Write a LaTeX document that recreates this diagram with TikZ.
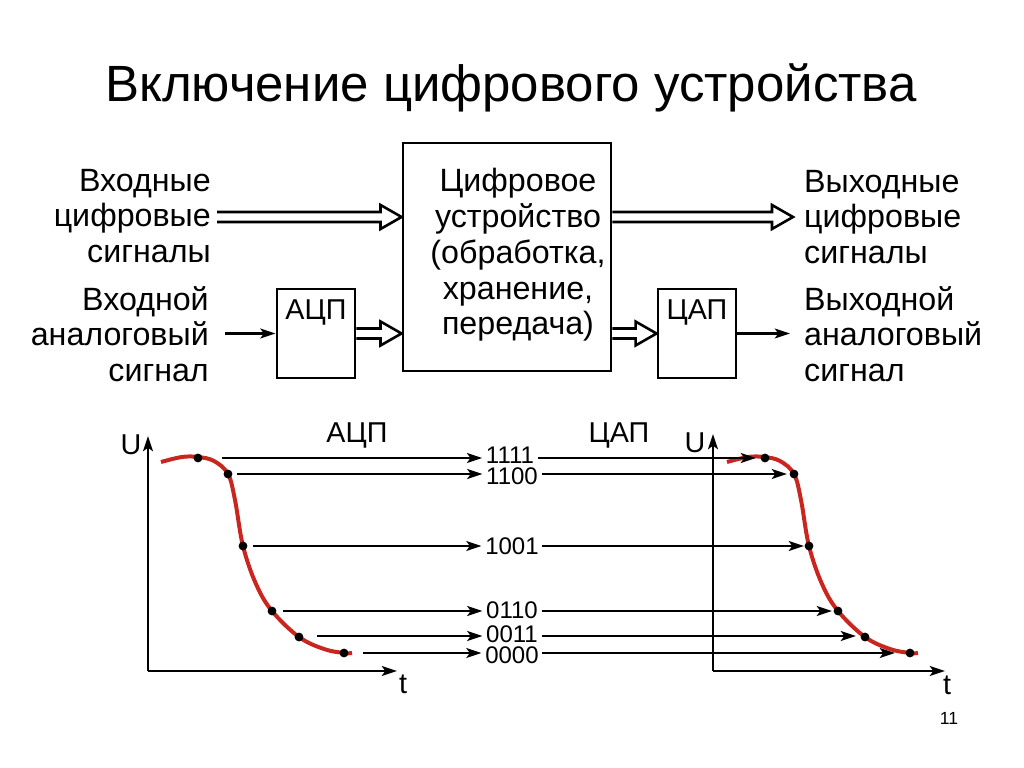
\documentclass[tikz,border=0pt]{standalone}
\usepackage{fontspec}
\setmainfont{Liberation Sans}
\usetikzlibrary{arrows.meta,calc,positioning}

\definecolor{curvered}{RGB}{200,38,30}

% hollow double arrow between two points on one level
\newcommand{\dblarrow}[2]{%
  \draw[dblwire] ($(#1)+(0,-5)$) -- ($(#2)+(-21,-5)$) -- ($(#2)+(-21,-12)$) -- (#2)
    -- ($(#2)+(-21,12)$) -- ($(#2)+(-21,5)$) -- ($(#1)+(0,5)$);}

% sampled signal
\newcommand{\sigcurve}{plot[smooth, tension=0.6] coordinates {(161,462) (182,457) (198,457)
    (214,461) (228,474) (235,500) (243,546) (256,584) (272,611) (299,637) (324,649) (344,653) (352,653)}}

\begin{document}
\begin{tikzpicture}[x=0.03cm,y=-0.03cm]
            \tikzstyle{block}=[draw, line width=2.5pt, inner sep=0pt]
            \tikzstyle{txt}=[font=\fontsize{27.5}{30.5}\selectfont, inner sep=0pt]
            \tikzstyle{lbl}=[font=\fontsize{24.5}{26}\selectfont, inner sep=0pt]
            \tikzstyle{code}=[font=\fontsize{20.5}{21}\selectfont, inner xsep=3pt, inner ysep=0pt, text height=14.8pt, text depth=0pt]
            \tikzstyle{wire}=[line width=1.9pt, -{Stealth[length=13pt,width=8.5pt,inset=3pt]}]
            \tikzstyle{dblwire}=[line width=2.2pt, line join=miter]
            \tikzstyle{signal}=[line width=3.4pt, curvered]
            \tikzstyle{dot}=[circle, fill=black, inner sep=0pt, minimum size=7.5pt]

            \useasboundingbox (0,0) rectangle (1024,768);

            % title
            \node[font=\fontsize{43.5}{50}\selectfont] (title) at (511,88) {Включение цифрового устройства};

            % blocks
            \node[block, minimum width=6.24cm, minimum height=6.84cm] (dev) at (507,257) {};
            \node[txt, align=center] (devtxt) at (518,255) {Цифровое\\устройство\\(обработка,\\хранение,\\передача)};
            \node[block, minimum width=2.34cm, minimum height=2.67cm] (adc) at (316,333.5) {};
            \node[lbl, below=10pt] (adctxt) at (adc.north) {АЦП};
            \node[block, minimum width=2.34cm, minimum height=2.67cm] (dac) at (697,333.5) {};
            \node[lbl, below=10pt] (dactxt) at (dac.north) {ЦАП};

            % side texts
            \node[txt, align=right, anchor=east] (indig) at (211,216) {Входные\\цифровые\\сигналы};
            \node[txt, align=right, anchor=east] (inan) at (209,334) {Входной\\аналоговый\\сигнал};
            \node[txt, align=left, anchor=west] (outdig) at (804,217) {Выходные\\цифровые\\сигналы};
            \node[txt, align=left, anchor=west] (outan) at (804,334) {Выходной\\аналоговый\\сигнал};

            % connection points
            \coordinate (in1) at (217,217);
            \coordinate (in1e) at (dev.west |- in1);
            \coordinate (in2) at (adc.east);
            \coordinate (in2e) at (dev.west |- in2);
            \coordinate (out1) at (dev.east |- in1);
            \coordinate (out1e) at (793,217);
            \coordinate (out2) at (dev.east |- dac.west);
            \coordinate (anin) at (225,333.5);
            \coordinate (anout) at (790,333.5);

            % connections
            \dblarrow{in1}{in1e}
            \dblarrow{in2}{in2e}
            \dblarrow{out1}{out1e}
            \dblarrow{out2}{dac.west}
            \draw[wire] (anin) -- (adc.west);
            \draw[wire] (dac.east) -- (anout);

            % axes
            \coordinate (o1) at (148,671);
            \coordinate (y1) at (148,436);
            \coordinate (x1) at (397,671);
            \coordinate (o2) at (713,671);
            \coordinate (y2) at (713,434);
            \coordinate (x2) at (945,671);
            \draw[wire] (o1) -- (y1);
            \draw[wire] (o1) -- (x1);
            \draw[wire] (o2) -- (y2);
            \draw[wire] (o2) -- (x2);
            \node[lbl] (u1) at (131,445) {U};
            \node[lbl] (t1) at (403,684) {t};
            \node[lbl] (u2) at (695,443) {U};
            \node[lbl] (t2) at (947,685) {t};
            \node[lbl] (adclbl) at (357,435) {АЦП};
            \node[lbl] (daclbl) at (619,435) {ЦАП};

            % signals
            \draw[signal] \sigcurve;
            \begin{scope}[shift={(566,0)}]
            \draw[signal] \sigcurve;
            \end{scope}

            % samples
            \node[dot] (a1) at (198,458) {};
            \node[dot] (a2) at (228,474) {};
            \node[dot] (a3) at (243,546) {};
            \node[dot] (a4) at (272,611) {};
            \node[dot] (a5) at (299,637) {};
            \node[dot] (a6) at (344,653) {};
            \node[dot] (b1) at (765,458) {};
            \node[dot] (b2) at (794,474) {};
            \node[dot] (b3) at (809,546) {};
            \node[dot] (b4) at (838,611) {};
            \node[dot] (b5) at (865,637) {};
            \node[dot] (b6) at (910,653) {};

            % codes
            \node[code] (c1) at (510,454.5) {1111};
            \node[code] (c2) at (512,476) {1100};
            \node[code] (c3) at (512,546) {1001};
            \node[code] (c4) at (512,610) {0110};
            \node[code] (c5) at (512,633.5) {0011};
            \node[code] (c6) at (512,655) {0000};

            % line starts and ends
            \coordinate (s1) at (222,458);
            \coordinate (s2) at (237,474);
            \coordinate (s3) at (253,546);
            \coordinate (s4) at (283,611);
            \coordinate (s5) at (317,636);
            \coordinate (s6) at (363,653);
            \coordinate (e1) at (756,458);
            \coordinate (e2) at (787,474);
            \coordinate (e3) at (804,546);
            \coordinate (e4) at (832,611);
            \coordinate (e5) at (856,636);
            \coordinate (e6) at (895,653);

            % conversion lines
            \draw[wire] (s1) -- (c1.west |- s1);
            \draw[wire] (s2) -- (c2.west |- s2);
            \draw[wire] (s3) -- (c3.west |- s3);
            \draw[wire] (s4) -- (c4.west |- s4);
            \draw[wire] (s5) -- (c5.west |- s5);
            \draw[wire] (s6) -- (c6.west |- s6);
            \draw[wire] (c1.east |- s1) -- (e1);
            \draw[wire] (c2.east |- s2) -- (e2);
            \draw[wire] (c3.east |- s3) -- (e3);
            \draw[wire] (c4.east |- s4) -- (e4);
            \draw[wire] (c5.east |- s5) -- (e5);
            \draw[wire] (c6.east |- s6) -- (e6);

            % page number
            \node[font=\fontsize{15}{16}\selectfont] (page) at (949,718) {11};
\end{tikzpicture}
\end{document}
